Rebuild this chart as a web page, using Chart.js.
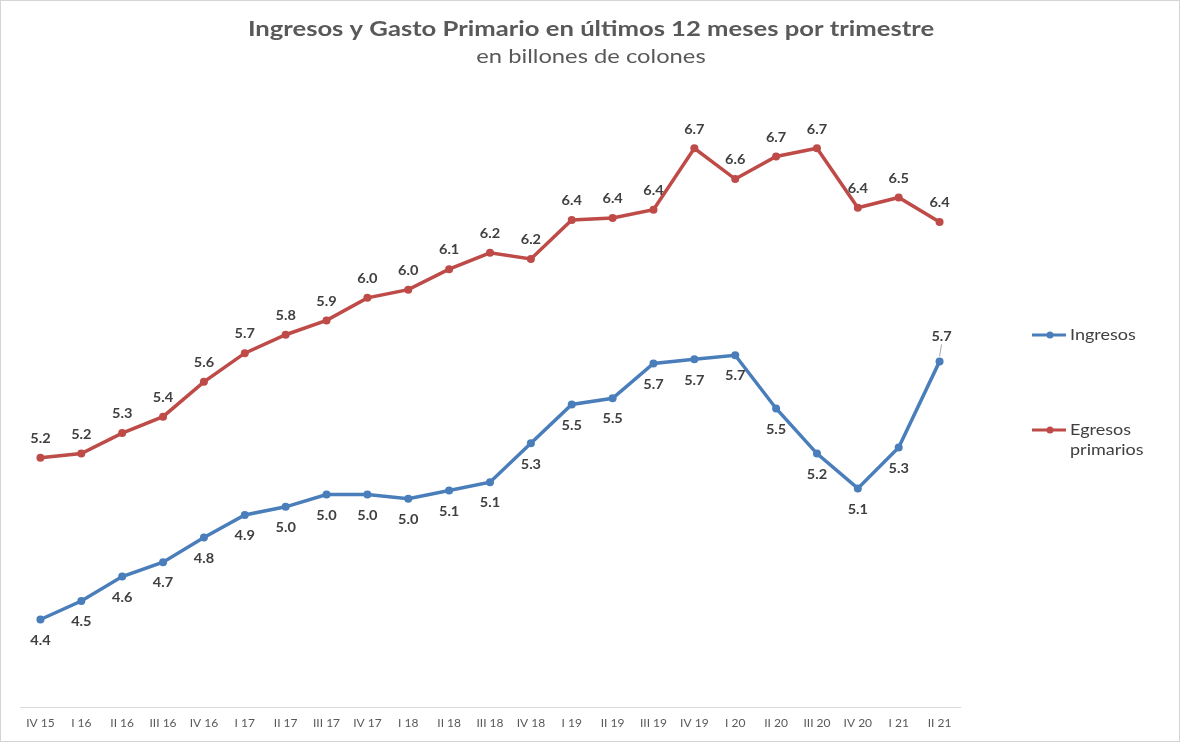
<!DOCTYPE html>
<html><head><meta charset="utf-8">
<script src="https://cdn.jsdelivr.net/npm/chart.js@4.4.1/dist/chart.umd.min.js"></script>
<style>html,body{margin:0;padding:0;background:#fff;}#wrap{width:1180px;height:742px;position:relative;}</style>
</head><body><div id="wrap"><canvas id="c" width="1180" height="742"></canvas></div>
<script>
const categories = ["IV 15","I 16","II 16","III 16","IV 16","I 17","II 17","III 17","IV 17","I 18","II 18","III 18","IV 18","I 19","II 19","III 19","IV 19","I 20","II 20","III 20","IV 20","I 21","II 21"];
const ingresos = [4.43,4.52,4.64,4.71,4.83,4.94,4.98,5.04,5.04,5.02,5.06,5.10,5.29,5.48,5.51,5.68,5.70,5.72,5.46,5.24,5.07,5.27,5.69];
const egresos = [5.22,5.24,5.34,5.42,5.59,5.73,5.82,5.89,6.00,6.04,6.14,6.22,6.19,6.38,6.39,6.43,6.73,6.58,6.69,6.73,6.44,6.49,6.37];
const titleText = "Ingresos y Gasto Primario en últimos 12 meses por trimestre";
const subtitleText = "en billones de colones";
const legendIngresos = ["Ingresos"];
const legendEgresos = ["Egresos", "primarios"];

const BLUE = "#4a7ebb", RED = "#be4b48", TXT = "#404040";
const FONT = "Lato, 'Open Sans', sans-serif";

function drawText(ctx, text, x, y, font, sx, align) {
  ctx.save();
  ctx.font = font;
  ctx.textAlign = align || "center";
  ctx.textBaseline = "middle";
  ctx.translate(x, y);
  ctx.scale(sx, 1);
  ctx.fillText(text, 0, 0);
  ctx.restore();
}

const labelsPlugin = {
  id: "valLabels",
  afterDatasetsDraw(chart) {
    const ctx = chart.ctx;
    ctx.save();
    ctx.fillStyle = TXT;
    const f = "bold 13px " + FONT;
    chart.data.datasets.forEach((ds, di) => {
      const meta = chart.getDatasetMeta(di);
      meta.data.forEach((pt, i) => {
        const v = ds.data[i].toFixed(1);
        if (di === 0) {
          if (i === ds.data.length - 1) {
            drawText(ctx, v, pt.x + 2, pt.y - 25, f, 1.12);
            ctx.strokeStyle = "#a6a6a6"; ctx.lineWidth = 1;
            ctx.beginPath(); ctx.moveTo(pt.x + 2, pt.y - 17); ctx.lineTo(pt.x, pt.y - 5); ctx.stroke();
          } else {
            drawText(ctx, v, pt.x, pt.y + 21, f, 1.12);
          }
        } else {
          drawText(ctx, v, pt.x, pt.y - 19, f, 1.12);
        }
      });
    });
    ctx.restore();
  }
};

const decorPlugin = {
  id: "decor",
  afterDraw(chart) {
    const ctx = chart.ctx;
    ctx.save();
    ctx.strokeStyle = "#d4d4d4"; ctx.lineWidth = 1;
    ctx.strokeRect(0.5, 0.5, 1179, 741);
    ctx.fillStyle = "#595959";
    drawText(ctx, titleText, 591, 29, "bold 20.5px " + FONT, 1.25);
    drawText(ctx, subtitleText, 591, 57, "19px " + FONT, 1.25);
    const items = [[BLUE, legendIngresos, 335], [RED, legendEgresos, 430]];
    items.forEach(([col, lines, y]) => {
      ctx.strokeStyle = col; ctx.lineWidth = 3;
      ctx.beginPath(); ctx.moveTo(1032, y); ctx.lineTo(1066, y); ctx.stroke();
      ctx.fillStyle = col;
      ctx.beginPath(); ctx.arc(1050, y, 3.5, 0, Math.PI * 2); ctx.fill();
      ctx.fillStyle = TXT;
      lines.forEach((t, k) => drawText(ctx, t, 1070, y + k * 20, "15px " + FONT, 1.2, "left"));
    });
    ctx.restore();
  }
};

new Chart(document.getElementById("c"), {
  type: "line",
  data: {
    labels: categories,
    datasets: [
      { label: "Ingresos", data: ingresos, borderColor: BLUE, backgroundColor: BLUE, borderWidth: 3.5, pointRadius: 4, pointBackgroundColor: BLUE, pointBorderWidth: 0, tension: 0 },
      { label: "Egresos primarios", data: egresos, borderColor: RED, backgroundColor: RED, borderWidth: 3.5, pointRadius: 4, pointBackgroundColor: RED, pointBorderWidth: 0, tension: 0 }
    ]
  },
  options: {
    responsive: false,
    animation: false,
    events: [],
    layout: { padding: { top: 93, left: 20, right: 220, bottom: 12 } },
    plugins: { legend: { display: false }, title: { display: false }, tooltip: { enabled: false } },
    scales: {
      x: {
        offset: true,
        grid: { display: false },
        border: { display: true, color: "#d9d9d9", width: 1 },
        ticks: { color: "#595959", font: { family: FONT, size: 12 }, padding: 0, maxRotation: 0, autoSkip: false }
      },
      y: { display: false, min: 4, max: 7 }
    }
  },
  plugins: [labelsPlugin, decorPlugin]
});
</script></body></html>
